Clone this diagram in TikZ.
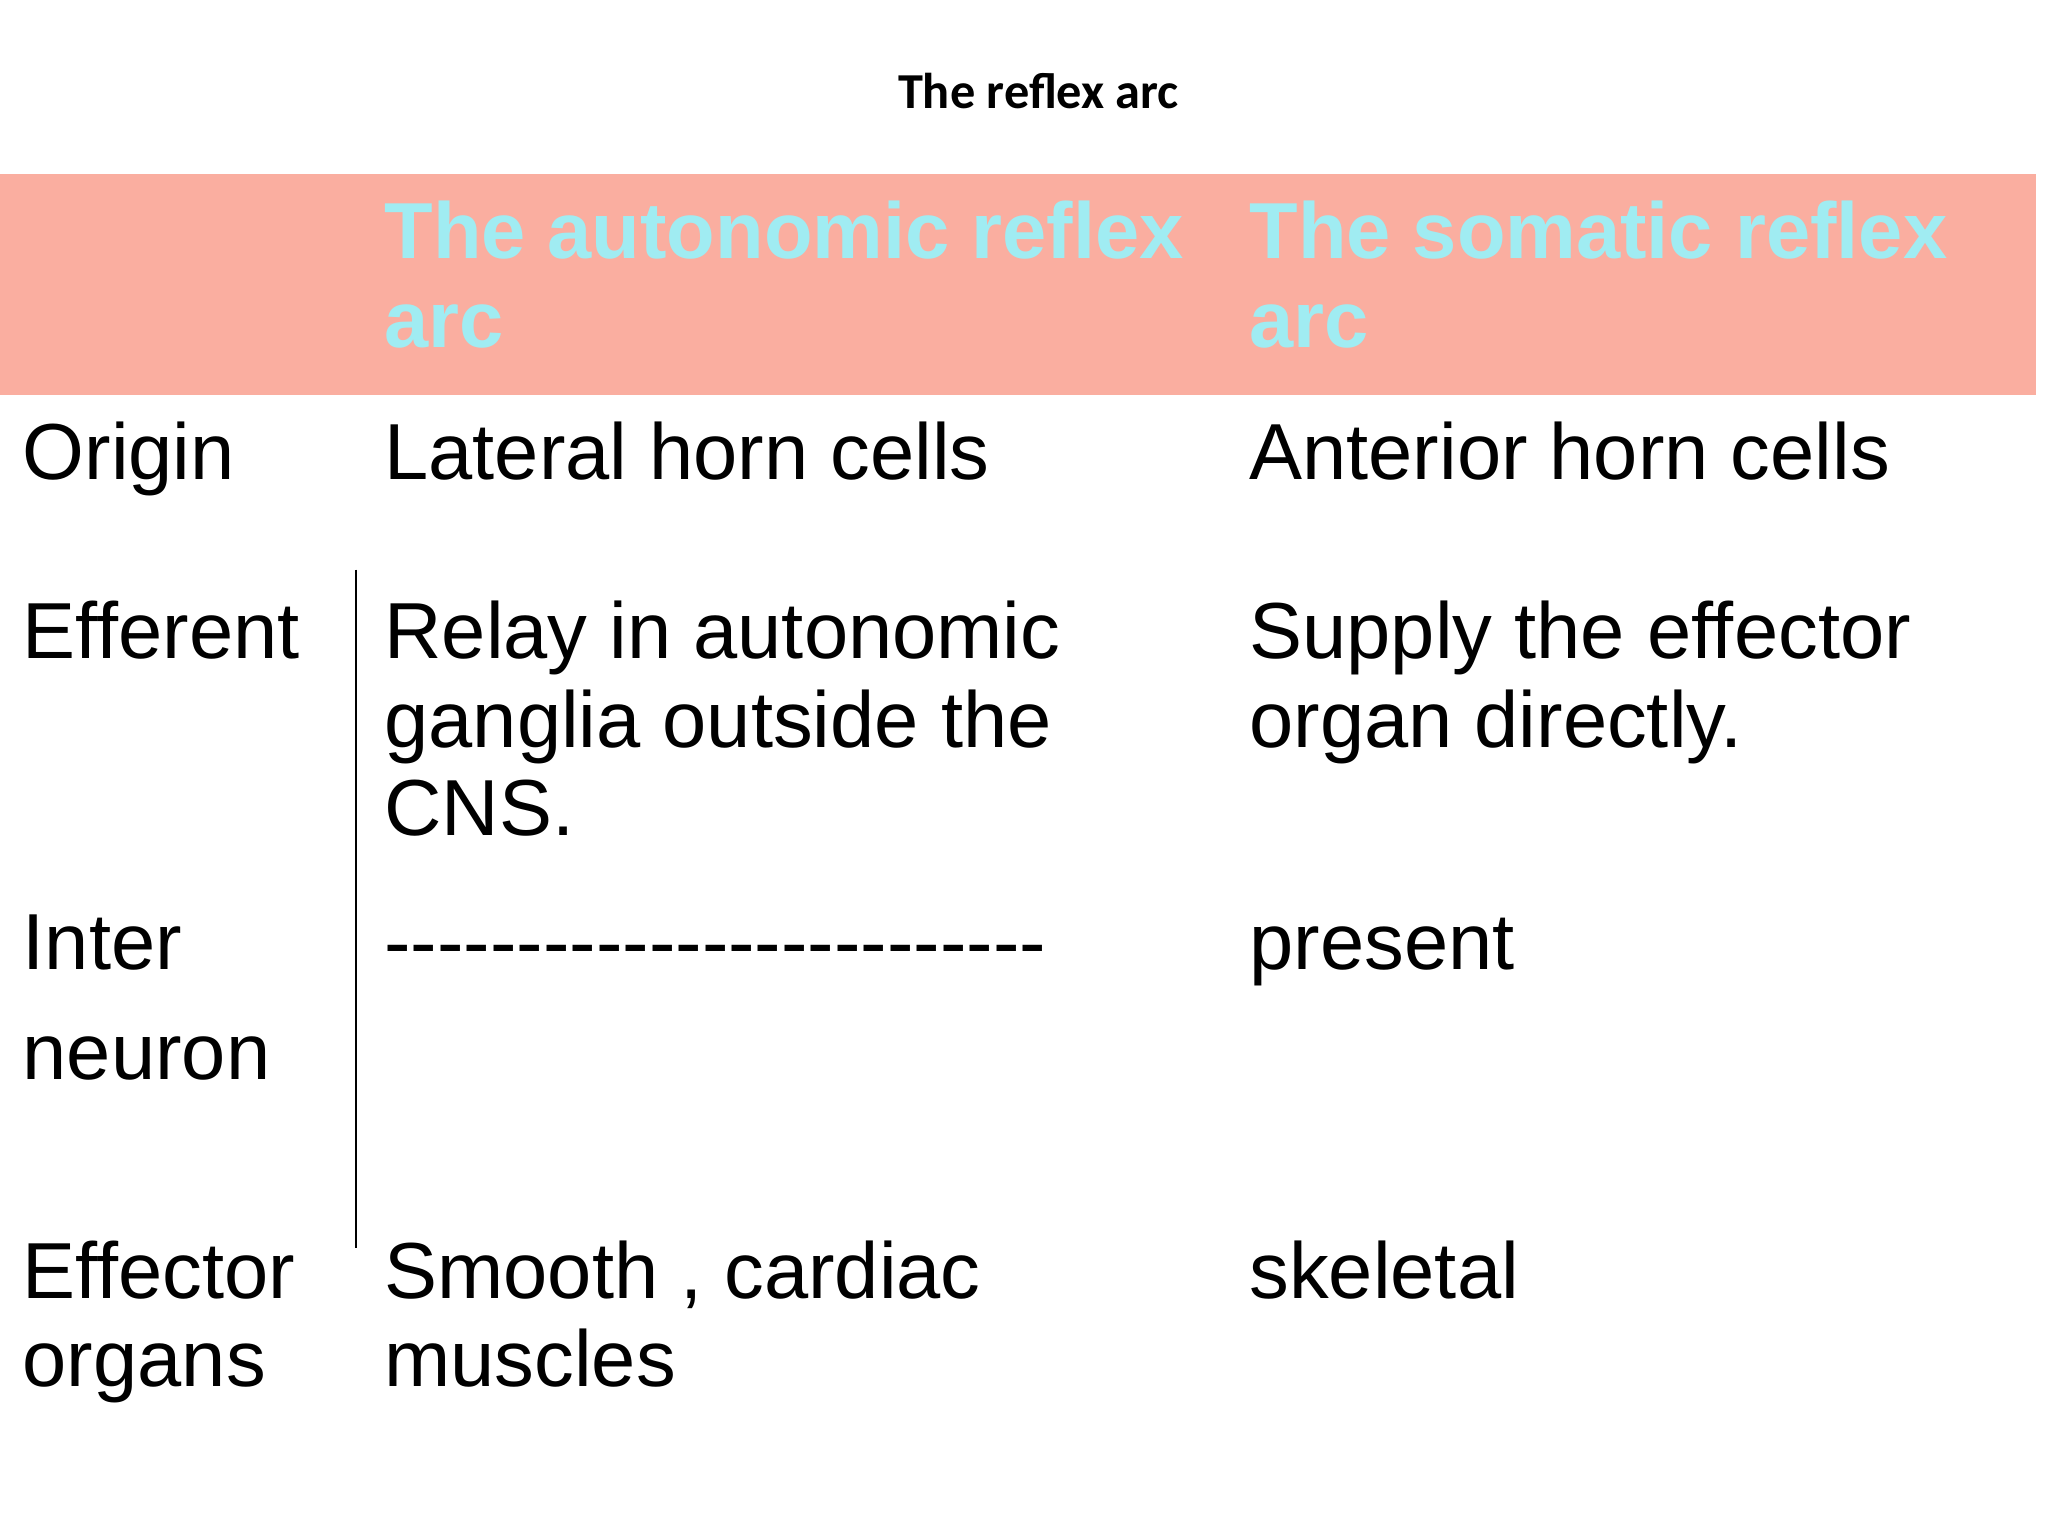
\documentclass[tikz,border=0pt]{standalone}
\usepackage{fontspec}
\setmainfont{Liberation Sans}
\newfontfamily\titlefont{Carlito}
\definecolor{band}{RGB}{250,174,160}
\definecolor{headtxt}{RGB}{160,236,242}
\newcommand{\ml}[1]{\begin{tabular}[t]{@{}l@{}}#1\end{tabular}}
\begin{document}
\begin{tikzpicture}[x=1pt,y=-1pt,
  cell/.style={anchor=base west,inner sep=0pt,font=\fontsize{60}{67}\selectfont},
  head/.style={cell,text=headtxt,font=\fontsize{60}{67}\selectfont\bfseries}]
\useasboundingbox[fill=white] (0,0) rectangle (1546,1159.5);
\fill[band] (0,131) rectangle (1537,298);
\node[anchor=base,inner sep=0pt,font=\titlefont\fontsize{38}{40}\selectfont\bfseries] (title) at (784,82) {The reflex arc};
\node[head] (h1) at (290,195) {\ml{The autonomic reflex\\arc}};
\node[head] (h2) at (943,195) {\ml{The somatic reflex\\arc}};
\node[cell] (r1) at (17,362) {Origin};
\node[cell] (a1) at (290,362) {Lateral horn cells};
\node[cell] (b1) at (943,362) {Anterior horn cells};
\node[cell] (r2) at (17,497) {Efferent};
\node[cell] (a2) at (290,497) {\ml{Relay in autonomic\\ganglia outside the\\CNS.}};
\node[cell] (b2) at (943,497) {\ml{Supply the effector\\organ directly.}};
\node[cell,font=\fontsize{60}{83}\selectfont] (r3) at (17,732) {\ml{Inter\\neuron}};
\node[cell] (a3) at (290,732) {-{}-{}-{}-{}-{}-{}-{}-{}-{}-{}-{}-{}-{}-{}-{}-{}-{}-{}-{}-{}-{}-{}-{}-{}-};
\node[cell] (b3) at (943,732) {present};
\node[cell] (r4) at (17,980) {\ml{Effector\\organs}};
\node[cell] (a4) at (290,980) {\ml{Smooth , cardiac\\muscles}};
\node[cell] (b4) at (943,980) {skeletal};
\coordinate (l1) at (269,430);
\coordinate (l2) at (269,942);
\draw[line width=1.5pt] (l1) -- (l2);
\end{tikzpicture}
\end{document}
